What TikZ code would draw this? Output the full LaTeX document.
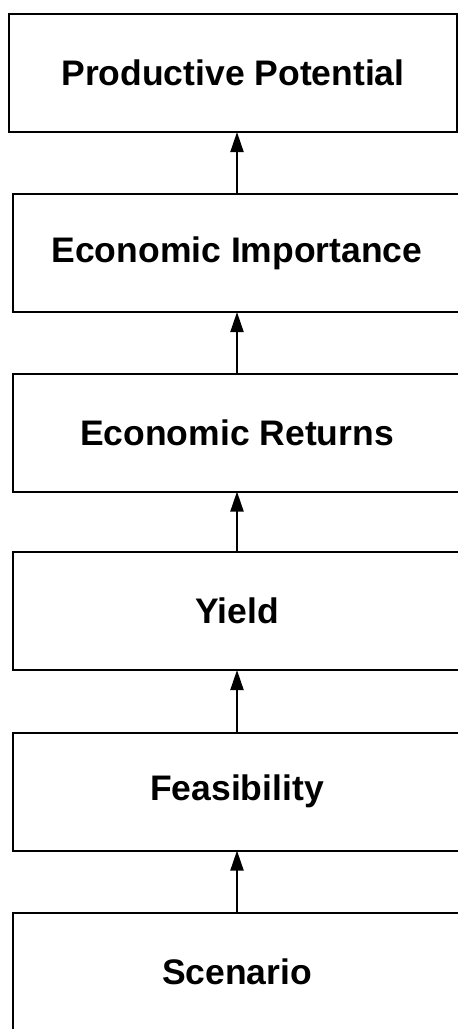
\documentclass[tikz,border=0pt]{standalone}
\usepackage{fontspec}
\setmainfont{Liberation Sans}
\usetikzlibrary{arrows.meta}
\begin{document}
\begin{tikzpicture}[x=1pt,y=1pt,
  stagebox/.style={draw=black, line width=2pt, rectangle, minimum width=448pt, minimum height=118pt, inner sep=0pt, outer sep=0pt, font=\fontsize{35.5}{40}\selectfont\bfseries},
  uparrow/.style={draw=black, line width=2pt, -{Triangle[length=20pt,width=13pt]}}]
\useasboundingbox (0,0) rectangle (458,-1029);
\node[stagebox] (b1) at (233,-73) {Productive Potential};
\node[stagebox] (b2) at (237,-253) {Economic Importance};
\node[stagebox] (b3) at (237,-432.5) {Economic Returns};
\node[stagebox] (b4) at (237,-611) {Yield};
\node[stagebox] (b5) at (237,-791.5) {Feasibility};
\node[stagebox] (b6) at (237,-972) {Scenario};
\draw[uparrow] (b2.north) -- (b2.north |- b1.south);
\draw[uparrow] (b3.north) -- (b2.south);
\draw[uparrow] (b4.north) -- (b3.south);
\draw[uparrow] (b5.north) -- (b4.south);
\draw[uparrow] (b6.north) -- (b5.south);
\end{tikzpicture}
\end{document}
